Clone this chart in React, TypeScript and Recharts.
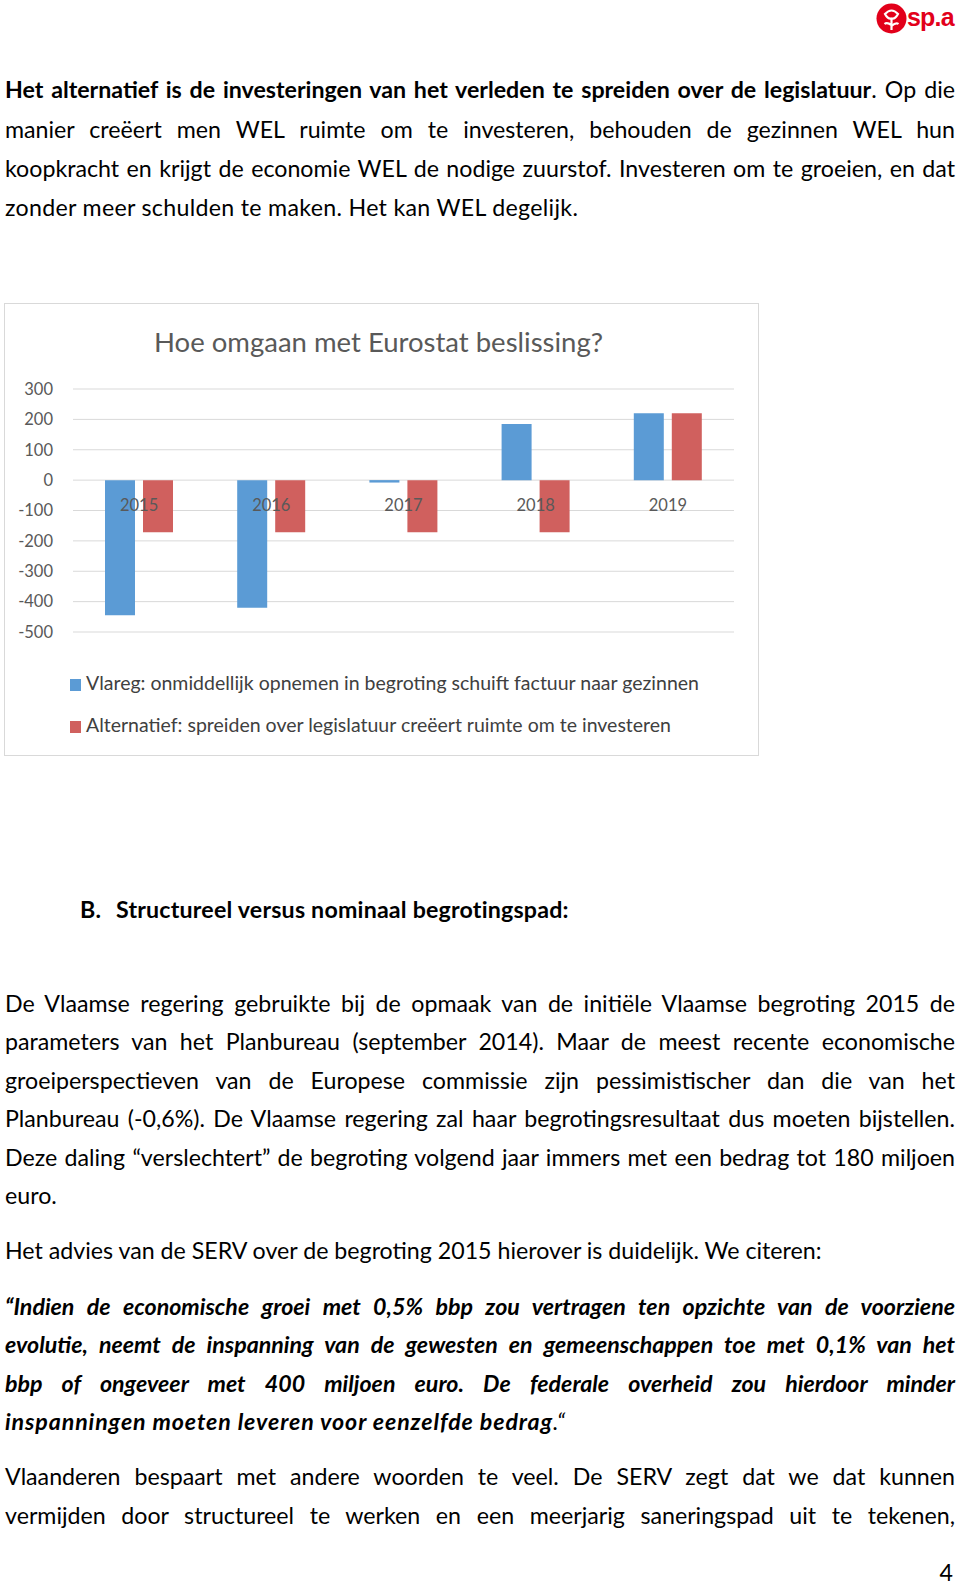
import { BarChart, Bar, XAxis, YAxis, CartesianGrid } from "recharts";

const years = ["2015", "2016", "2017", "2018", "2019"];
const vlareg = [-445, -420, -8, 185, 220];
const alternatief = [-172, -172, -172, -172, 220];
const yTicks = [-500, -400, -300, -200, -100, 0, 100, 200, 300];

const vlaregLabel =
  "Vlareg: onmiddellijk opnemen in begroting schuift factuur naar gezinnen";
const alternatiefLabel =
  "Alternatief: spreiden over legislatuur creëert ruimte om te investeren";

const para1 = [
  "manier creëert men WEL ruimte om te investeren, behouden de gezinnen WEL hun",
  "koopkracht en krijgt de economie WEL de nodige zuurstof. Investeren om te groeien, en dat",
];
const para1Last = "zonder meer schulden te maken. Het kan WEL degelijk.";

const para2 = [
  "De Vlaamse regering gebruikte bij de opmaak van de initiële Vlaamse begroting 2015 de",
  "parameters van het Planbureau (september 2014). Maar de meest recente economische",
  "groeiperspectieven van de Europese commissie zijn pessimistischer dan die van het",
  "Planbureau (-0,6%). De Vlaamse regering zal haar begrotingsresultaat dus moeten bijstellen.",
  "Deze daling “verslechtert” de begroting volgend jaar immers met een bedrag tot 180 miljoen",
];
const para2Last = "euro.";

const quote = [
  "“Indien de economische groei met 0,5% bbp zou vertragen ten opzichte van de voorziene",
  "evolutie, neemt de inspanning van de gewesten en gemeenschappen toe met 0,1% van het",
  "bbp of ongeveer met 400 miljoen euro. De federale overheid zou hierdoor minder",
];
const quoteLast = "inspanningen moeten leveren voor eenzelfde bedrag";

const para3 = [
  "Vlaanderen bespaart met andere woorden te veel. De SERV zegt dat we dat kunnen",
  "vermijden door structureel te werken en een meerjarig saneringspad uit te tekenen,",
];

const BLUE = "#5B9BD5";
const RED = "#D0605E";
const AXIS_TEXT = "#595959";
const GRID = "#d9d9d9";
const Y_MIN = -500;
const Y_MAX = 300;
const PLOT_H = 243;

const FONT = "Lato, 'Open Sans', sans-serif";
const BODY_SIZE = 23.2;

const chartData = years.map((year, i) => ({
  year,
  vlareg: vlareg[i],
  alternatief: alternatief[i],
}));

// year labels sit just under the zero line (Excel "next to axis")
const YearTick = ({ x, y, payload }: any) => {
  const zeroY = y - (PLOT_H * (0 - Y_MIN)) / (Y_MAX - Y_MIN);
  return (
    <text
      x={x}
      y={zeroY + 31}
      textAnchor="middle"
      fill={AXIS_TEXT}
      fontSize={16.5}
      fontFamily={FONT}
    >
      {payload.value}
    </text>
  );
};

const TextLine = ({ center, justify, children, style }: any) => (
  <div
    style={{
      position: "absolute",
      left: 5,
      width: 950,
      top: center - 18,
      height: 30,
      lineHeight: "30px",
      whiteSpace: "nowrap",
      textAlign: justify ? "justify" : "left",
      textAlignLast: justify ? "justify" : "left",
      ...style,
    }}
  >
    {children}
  </div>
);

const Logo = () => (
  <div style={{ position: "absolute", left: 876, top: 2, width: 82, height: 32 }}>
    <svg width={31} height={31} style={{ position: "absolute", left: 0, top: 1 }}>
      <circle cx={15.5} cy={15.5} r={15} fill="#E2001A" />
      <path
        d="M9 11 Q15.5 4 22 11 Q19 16.5 15.5 15.5 Q12 16.5 9 11 Z"
        fill="none"
        stroke="#fff"
        strokeWidth={2.2}
      />
      <path
        d="M15.5 15.5 L15.5 27 M15.5 22 Q11 19 8.5 21 M15.5 23 Q20 19 22.5 21"
        stroke="#fff"
        strokeWidth={2.2}
        fill="none"
      />
    </svg>
    <div
      style={{
        position: "absolute",
        left: 31,
        top: 0,
        fontFamily: "'Liberation Sans', Arial, sans-serif",
        fontWeight: 700,
        fontSize: 25,
        color: "#E2001A",
        letterSpacing: -0.8,
        lineHeight: "30px",
      }}
    >
      sp.a
    </div>
  </div>
);

const EurostatChart = () => (
  <div
    style={{
      position: "absolute",
      left: 4,
      top: 303,
      width: 753,
      height: 451,
      border: `1px solid ${GRID}`,
      background: "#fff",
      fontFamily: FONT,
    }}
  >
    <div
      style={{
        position: "absolute",
        left: 0,
        width: 753,
        top: 22,
        lineHeight: "32px",
        textAlign: "center",
        paddingRight: 6,
        boxSizing: "border-box",
        fontSize: 27.5,
        color: AXIS_TEXT,
      }}
    >
      Hoe omgaan met Eurostat beslissing?
    </div>

    <div style={{ position: "absolute", left: 0, top: 66 }}>
      <BarChart
        width={753}
        height={300}
        data={chartData}
        margin={{ top: 19, right: 24, bottom: 8, left: 0 }}
        barSize={30}
        barGap={8}
      >
        <CartesianGrid vertical={false} stroke={GRID} />
        <XAxis
          dataKey="year"
          height={30}
          axisLine={false}
          tickLine={false}
          tickSize={0}
          tickMargin={0}
          tick={<YearTick />}
        />
        <YAxis
          width={68}
          domain={[Y_MIN, Y_MAX]}
          ticks={yTicks}
          axisLine={false}
          tickLine={false}
          tickSize={6}
          tickMargin={14}
          tick={{ fill: AXIS_TEXT, fontSize: 16.5, fontFamily: FONT }}
        />
        <Bar dataKey="vlareg" fill={BLUE} isAnimationActive={false} />
        <Bar dataKey="alternatief" fill={RED} isAnimationActive={false} />
      </BarChart>
    </div>

    {/* Legend */}
    {[
      { label: vlaregLabel, color: BLUE, center: 379 },
      { label: alternatiefLabel, color: RED, center: 421 },
    ].map((item) => (
      <div
        key={item.label}
        style={{
          position: "absolute",
          left: 65,
          top: item.center - 15,
          height: 30,
          lineHeight: "30px",
          fontSize: 19.5,
          color: "#404040",
          whiteSpace: "nowrap",
        }}
      >
        <span
          style={{
            display: "inline-block",
            width: 11,
            height: 12,
            marginRight: 5,
            verticalAlign: "-1px",
            backgroundColor: item.color,
          }}
        />
        {item.label}
      </div>
    ))}
  </div>
);

export default function App() {
  return (
    <div
      style={{
        position: "absolute",
        left: 0,
        top: 0,
        width: 960,
        height: 1589,
        background: "#fff",
        fontFamily: FONT,
        fontSize: BODY_SIZE,
        color: "#000",
        overflow: "hidden",
      }}
    >
      <Logo />

      <TextLine center={92} justify>
        <b>
          Het alternatief is de investeringen van het verleden te spreiden over de
          legislatuur
        </b>
        . Op die
      </TextLine>
      {para1.map((t, i) => (
        <TextLine key={t} center={132 + i * 38.5} justify>
          {t}
        </TextLine>
      ))}
      <TextLine center={210} style={{ letterSpacing: 0.3 }}>
        {para1Last}
      </TextLine>

      <EurostatChart />

      <div
        style={{
          position: "absolute",
          left: 80,
          top: 912 - 18,
          lineHeight: "30px",
          fontWeight: 700,
          whiteSpace: "nowrap",
          letterSpacing: 0.2,
        }}
      >
        <span style={{ display: "inline-block", width: 36 }}>B.</span>
        Structureel versus nominaal begrotingspad:
      </div>

      {para2.map((t, i) => (
        <TextLine key={t} center={1006 + i * 38.4} justify>
          {t}
        </TextLine>
      ))}
      <TextLine center={1198}>{para2Last}</TextLine>

      <TextLine center={1253}>
        Het advies van de SERV over de begroting 2015 hierover is duidelijk. We citeren:
      </TextLine>

      {quote.map((t, i) => (
        <TextLine
          key={t}
          center={1309 + i * 38.4}
          justify
          style={{ fontWeight: 700, fontStyle: "italic" }}
        >
          {t}
        </TextLine>
      ))}
      <TextLine center={1424} style={{ fontStyle: "italic", letterSpacing: 0.9 }}>
        <b>{quoteLast}</b>.“
      </TextLine>

      {para3.map((t, i) => (
        <TextLine key={t} center={1479 + i * 39} justify>
          {t}
        </TextLine>
      ))}

      <div
        style={{
          position: "absolute",
          right: 7,
          top: 1575 - 18,
          lineHeight: "30px",
        }}
      >
        4
      </div>
    </div>
  );
}
